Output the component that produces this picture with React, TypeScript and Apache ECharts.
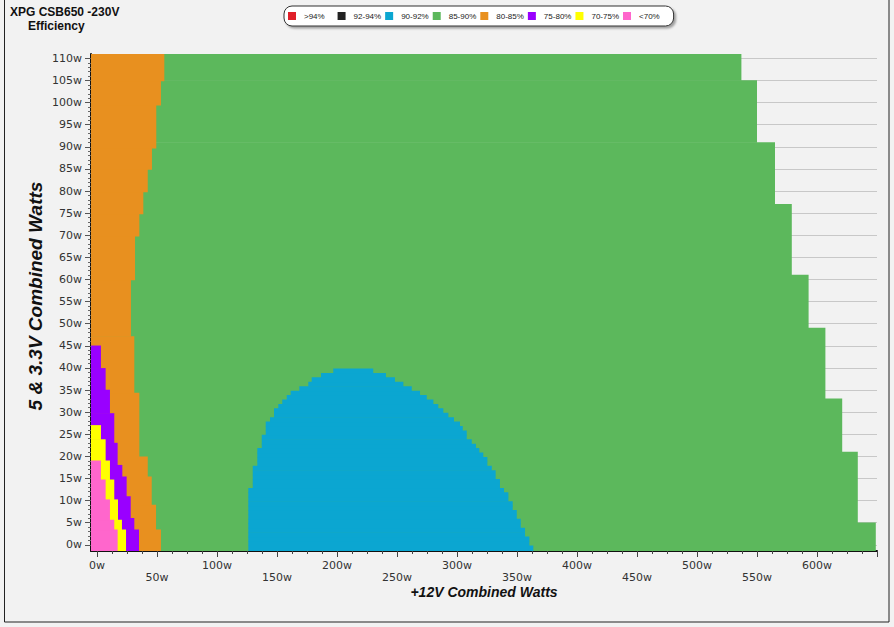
import React, { useEffect, useRef } from 'react';
import * as echarts from 'echarts';

// Axis extents (watts)
const X_MIN = -5;
const X_MAX = 650;
const Y_MIN = -1.4;
const Y_MAX = 111;

const bandNames = ['>94%', '92-94%', '90-92%', '85-90%', '80-85%', '75-80%', '70-75%', '<70%'];
const bandColors = ['#e0202a', '#222222', '#0ba6d1', '#5cb85c', '#e8901f', '#9900ff', '#ffff00', '#ff66cc'];

// 85-90% region: outer (right) edge per 5V/3.3V band, bands listed from bottom (top value of each band)
const outerTop = [5, 21, 33, 49, 61, 77, 91, 105, 111];
const outerRight = [649, 634, 621, 607, 593, 579, 565, 550, 537];

// 80-85% region: right edge per band
const orangeTop = [3.4, 9, 15.4, 19.9, 34.3, 47.1, 59.9, 69.8, 74.8, 79.8, 84.9, 89.7, 99.4, 104.9, 111];
const orangeRight = [53.3, 49.2, 45.6, 42.3, 35.3, 31.1, 28.3, 31.7, 35.3, 38.6, 42.3, 45.8, 49.4, 53.3, 56.1];

// 75-80% region: right edge per band
const purpleTop = [3.4, 6, 10.9, 15.4, 18, 23, 29.7, 35, 39.9, 45];
const purpleRight = [35, 31.1, 28.1, 24.7, 21.1, 17.2, 14.4, 10.8, 7.2, 3.3];

// 70-75% region: right edge per band
const yellowTop = [3.4, 5.6, 10.2, 14.7, 19, 23.8, 27];
const yellowRight = [24.2, 20.8, 17.5, 14.4, 10.8, 7.2, 3.3];

// <70% region: right edge per band
const pinkTop = [3.4, 5.6, 10.2, 14.7, 19];
const pinkRight = [17.2, 14.4, 10.8, 7.2, 3.3];

// 90-92% island: one row per ~1W of 5V/3.3V load (row tops, left and right edges)
const blueTop = [
  -0.2, 0.8, 1.8, 2.8, 3.8, 4.8, 5.8, 6.8, 7.8, 8.8, 9.8, 10.8, 11.8, 12.8,
  13.8, 14.8, 15.8, 16.8, 17.8, 18.8, 19.8, 20.8, 21.8, 22.8, 23.8, 24.8, 25.8,
  26.8, 27.8, 28.8, 29.8, 30.8, 31.8, 32.8, 33.8, 34.8, 35.8, 36.8, 37.8, 38.8, 39.8,
];
const blueLeft = [
  126.1, 126.1, 126.1, 126.1, 126.1, 126.1, 126.1, 126.1, 126.1, 126.1, 126.1, 126.1, 126.1, 126.1,
  129.8, 129.8, 129.8, 129.8, 129.8,
  133.6, 133.6, 133.6, 133.6,
  137.3, 137.3, 137.3,
  140.6, 140.6, 140.6,
  144.2, 147.5, 147.5, 151.1, 154.4, 158.1, 161.4, 168.6, 176.1, 178.9, 186.7, 196.9,
];
const blueRight = [
  363.6, 360.3, 360.3, 356.7, 356.7, 353.1, 353.1, 349.8, 349.8, 346.4, 346.4, 342.8, 342.8,
  339.2, 335.8, 335.8, 332.2, 332.2, 329, 325.3, 325.3, 321.9, 318.6, 315.8, 312.3, 308.1,
  308.1, 304.8, 302.5, 297.5, 292.8, 288.6, 284.4, 280.3, 274.8, 269.2, 262.3, 255.3, 248.3,
  240.8, 230.2,
];

function bandRects(tops: number[], rights: number[]) {
  return tops.map((t, i) => [X_MIN, rights[i], i === 0 ? Y_MIN : tops[i - 1], t]);
}

function rowRects(tops: number[], lefts: number[], rights: number[]) {
  return tops.map((t, i) => [lefts[i], rights[i], i === 0 ? Y_MIN : tops[i - 1], t]);
}

const seriesData: number[][][] = [
  [],
  [],
  rowRects(blueTop, blueLeft, blueRight),
  bandRects(outerTop, outerRight),
  bandRects(orangeTop, orangeRight),
  bandRects(purpleTop, purpleRight),
  bandRects(yellowTop, yellowRight),
  bandRects(pinkTop, pinkRight),
];
const seriesZ = [2, 2, 3, 1, 2, 3, 4, 5];

const LABEL_FONT = 'DejaVu Sans';
const TITLE_FONT = 'Liberation Sans';

export default function App() {
  const ref = useRef<HTMLDivElement>(null);

  useEffect(() => {
    if (!ref.current) return;
    const chart = echarts.init(ref.current, undefined, { renderer: 'svg' });

    const makeRender = (color: string) => (params: any, api: any) => {
      const p0 = api.coord([api.value(0), api.value(2)]);
      const p1 = api.coord([api.value(1), api.value(3)]);
      return {
        type: 'rect',
        shape: {
          x: p0[0],
          y: p1[1] - 0.3,
          width: p1[0] - p0[0],
          height: p0[1] - p1[1] + 0.6,
        },
        style: { fill: color },
      };
    };

    const option: any = {
      animation: false,
      backgroundColor: '#f2f2f2',
      grid: [
        { left: 91, right: 17, top: 54, bottom: 76, show: false },
        { left: 91, right: 17, top: 58.4, bottom: 82.2, show: false },
        { left: 97, right: 17, top: 54, bottom: 76, show: false },
      ],
      xAxis: [
        {
          gridIndex: 0, type: 'value', min: X_MIN, max: X_MAX,
          axisLine: { show: true, onZero: false, lineStyle: { color: '#111', width: 2 } },
          axisTick: { show: false }, axisLabel: { show: false }, splitLine: { show: false },
        },
        { gridIndex: 1, type: 'value', min: 0, max: 1, show: false },
        {
          gridIndex: 2, type: 'value', min: 0, max: 650, interval: 50,
          axisLine: { show: false, onZero: false },
          axisTick: { show: true, length: 6, lineStyle: { color: '#444' } },
          minorTick: { show: true, splitNumber: 4, length: 3, lineStyle: { color: '#444' } },
          splitLine: { show: false },
          axisLabel: {
            show: true, margin: 8, color: '#333', fontFamily: LABEL_FONT, fontSize: 11, lineHeight: 12,
            showMaxLabel: false,
            formatter: (v: number) => (v % 100 === 0 ? `${v}w` : `\n${v}w`),
          },
        },
      ],
      yAxis: [
        {
          gridIndex: 0, type: 'value', min: Y_MIN, max: Y_MAX,
          axisLine: { show: true, onZero: false, lineStyle: { color: '#111', width: 2 } },
          axisTick: { show: false }, axisLabel: { show: false }, splitLine: { show: false },
        },
        {
          gridIndex: 1, type: 'value', min: 0, max: 110, interval: 5,
          axisLine: { show: false, onZero: false },
          axisTick: { show: true, length: 6, lineStyle: { color: '#555' } },
          minorTick: { show: true, splitNumber: 5, length: 3, lineStyle: { color: '#666' } },
          splitLine: { show: true, lineStyle: { color: '#c8c8c8', width: 1 } },
          axisLabel: {
            show: true, margin: 9, color: '#333', fontFamily: LABEL_FONT, fontSize: 11,
            formatter: (v: number) => `${v}w`,
          },
        },
        { gridIndex: 2, type: 'value', min: 0, max: 1, show: false },
      ],
      legend: {
        show: true,
        data: bandNames,
        left: 284,
        top: 6,
        orient: 'horizontal',
        icon: 'rect',
        itemWidth: 8,
        itemHeight: 8,
        itemGap: 4,
        padding: [6, 5, 6, 4],
        backgroundColor: '#ffffff',
        borderColor: '#333',
        borderWidth: 1,
        borderRadius: 8,
        shadowColor: 'rgba(0,0,0,0.35)',
        shadowBlur: 2,
        shadowOffsetX: 2,
        shadowOffsetY: 2,
        selectedMode: false,
        formatter: (name: string) =>
          name.length <= 4 ? `{a|${name}\u00a0\u00a0\u00a0\u00a0}` : `{a|${name}}`,
        textStyle: {
          fontFamily: TITLE_FONT, fontSize: 8, color: '#222',
          rich: {
            a: { padding: [0, 0, 0, 3], fontFamily: TITLE_FONT, fontSize: 8, color: '#222' },
          },
        },
      },
      series: bandNames.map((name, i) => ({
        name,
        type: 'custom',
        xAxisIndex: 0,
        yAxisIndex: 0,
        z: seriesZ[i],
        silent: true,
        clip: true,
        itemStyle: { color: bandColors[i] },
        encode: { x: [0, 1], y: [2, 3] },
        renderItem: makeRender(bandColors[i]),
        data: seriesData[i],
      })),
      graphic: [
        {
          type: 'rect', silent: true, z: -1,
          shape: { x: 4.5, y: -2, width: 884.5, height: 624 },
          style: { fill: 'none', stroke: '#222', lineWidth: 1 },
        },
        {
          type: 'text', x: 10, y: 12,
          style: { text: 'XPG CSB650 -230V', font: `bold 12px "${TITLE_FONT}"`, fill: '#111', verticalAlign: 'middle', textVerticalAlign: 'middle' },
        },
        {
          type: 'text', x: 28, y: 26,
          style: { text: 'Efficiency', font: `bold 12px "${TITLE_FONT}"`, fill: '#111', verticalAlign: 'middle', textVerticalAlign: 'middle' },
        },
        {
          type: 'text', x: 484, y: 592,
          style: {
            text: '+12V Combined Watts', font: `italic bold 14px "${TITLE_FONT}"`, fill: '#111',
            align: 'center', textAlign: 'center', verticalAlign: 'middle', textVerticalAlign: 'middle',
          },
        },
        {
          type: 'text', x: 35, y: 296, rotation: Math.PI / 2,
          style: {
            text: '5 & 3.3V Combined Watts', font: `italic bold 19px "${TITLE_FONT}"`, fill: '#111',
            align: 'center', textAlign: 'center', verticalAlign: 'middle', textVerticalAlign: 'middle',
          },
        },
      ],
    };

    chart.setOption(option);
    return () => chart.dispose();
  }, []);

  return (
    <div
      ref={ref}
      style={{ position: 'fixed', left: 0, top: 0, width: 894, height: 627 }}
    />
  );
}
